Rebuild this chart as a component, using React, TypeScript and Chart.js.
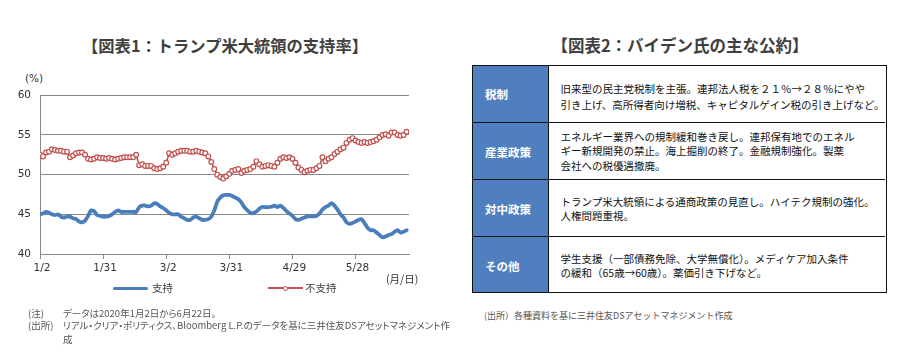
import React, { useEffect, useRef } from "react";
import { Chart, registerables } from "chart.js";

Chart.register(...registerables);

// ---- Chart data (business days, 2020/1/2 - 6/22) ----
const TICK_LABELS = ["1/2", "1/31", "3/2", "3/31", "4/29", "5/28"];
const TICK_INDEX = [0, 21, 42, 63, 84, 105];
const Y_MIN = 40;
const Y_MAX = 60;
const Y_STEP = 5;
const SERIES_NAMES = ["支持", "不支持"];

const SUPPORT = [
  45.0, 45.1, 45.3, 45.2, 45.0, 44.9, 45.0, 44.7, 44.6, 44.7,
  44.7, 44.5, 44.4, 44.1, 44.0, 44.2, 44.8, 45.5, 45.4, 44.9,
  44.8, 44.7, 44.7, 44.8, 45.0, 45.3, 45.5, 45.3, 45.3, 45.3,
  45.3, 45.3, 45.3, 45.9, 46.1, 46.1, 46.0, 46.1, 46.4, 46.3,
  46.0, 45.8, 45.5, 45.2, 45.0, 45.0, 45.0, 44.7, 44.5, 44.3,
  44.3, 44.6, 44.7, 44.5, 44.3, 44.3, 44.4, 44.7, 45.5, 46.6,
  47.1, 47.4, 47.45, 47.45, 47.3, 47.1, 46.9, 46.5, 45.9, 45.5,
  45.2, 45.15, 45.35, 45.7, 45.95, 45.9, 45.9, 45.95, 46.1, 45.9,
  46.1, 45.8, 45.4, 45.1, 44.8, 44.4, 44.3, 44.45, 44.6, 44.75,
  44.75, 44.75, 44.8, 45.1, 45.6, 45.9, 46.1, 46.4, 46.1, 45.6,
  45.0, 44.6, 44.0, 43.8, 43.9, 44.1, 44.3, 44.4, 43.9, 43.3,
  43.0, 43.0, 42.7, 42.4, 42.1, 42.2, 42.4, 42.5, 42.8, 43.0,
  42.7, 42.8, 43.0,
];

const DISAPPROVE = [
  52.5, 52.3, 52.8, 52.9, 53.2, 53.1, 53.0, 53.0, 52.9, 52.9,
  52.2, 52.4, 52.7, 52.8, 52.8, 52.5, 52.0, 51.9, 52.0, 52.2,
  52.1, 52.1, 52.0, 52.1, 52.0, 51.9, 52.0, 52.1, 52.2, 52.2,
  52.2, 52.2, 52.5, 51.2, 51.3, 51.1, 51.1, 51.1, 50.8, 50.7,
  50.8, 51.0, 51.5, 52.7, 52.5, 52.7, 52.9, 53.0, 53.0, 53.0,
  52.9, 52.9, 53.0, 52.9, 52.8, 52.7, 52.3, 51.6, 50.7, 50.0,
  49.7, 49.5, 49.8, 50.1, 50.5, 50.6, 50.7, 50.2, 50.5, 50.6,
  50.7, 51.0, 51.7, 51.3, 51.0, 51.1, 51.2, 51.1, 51.0, 51.5,
  52.0, 52.2, 52.1, 52.2, 52.0, 51.5, 50.9, 50.6, 50.3, 50.5,
  50.6, 50.6, 50.8, 51.1, 52.2, 51.7, 52.0, 52.2, 52.6, 52.9,
  53.2, 53.4, 54.0, 54.4, 54.6, 54.3, 54.1, 54.0, 54.1, 54.0,
  54.1, 54.2, 54.4, 54.7, 55.0, 55.1, 54.9, 55.3, 55.3, 55.0,
  54.9, 55.0, 55.4,
];

// ---- Table data ----
const POLICY_CATEGORIES = ["税制", "産業政策", "対中政策", "その他"];
const POLICY_TEXTS = [
  [
    "旧来型の民主党税制を主張。連邦法人税を２１％→２８％にやや",
    "引き上げ、高所得者向け増税、キャピタルゲイン税の引き上げなど。",
  ],
  [
    "エネルギー業界への規制緩和巻き戻し。連邦保有地でのエネル",
    "ギー新規開発の禁止。海上掘削の終了。金融規制強化。製薬",
    "会社への税優遇撤廃。",
  ],
  [
    "トランプ米大統領による通商政策の見直し。ハイテク規制の強化。",
    "人権問題重視。",
  ],
  [
    "学生支援（一部債務免除、大学無償化）。メディケア加入条件",
    "の緩和（65歳→60歳）。薬価引き下げなど。",
  ],
];

const TITLE1 = "【図表1：トランプ米大統領の支持率】";
const TITLE2 = "【図表2：バイデン氏の主な公約】";
const NOTE_LABEL = "(注)";
const NOTE_TEXT = "データは2020年1月2日から6月22日。";
const SOURCE_LABEL = "(出所)";
const SOURCE_TEXT_1 = "リアル・クリア・ポリティクス、Bloomberg L.P.のデータを基に三井住友DSアセットマネジメント作";
const SOURCE_TEXT_2 = "成";
const SOURCE_RIGHT = "(出所）各種資料を基に三井住友DSアセットマネジメント作成";

const BLUE = "#4a7ebb";
const RED = "#c0504d";
const GRID = "#8a8a8a";
const JP = '"Noto Sans CJK JP", "Noto Sans", sans-serif';
const NUM = '"DejaVu Sans", sans-serif';

function LineChart() {
  const ref = useRef<HTMLCanvasElement | null>(null);
  useEffect(() => {
    if (!ref.current) return;
    const chart = new Chart(ref.current, {
      type: "line",
      data: {
        datasets: [
          {
            label: SERIES_NAMES[0],
            data: SUPPORT.map((y, i) => ({ x: i, y })),
            borderColor: BLUE,
            backgroundColor: BLUE,
            borderWidth: 3.8,
            pointRadius: 0,
            tension: 0.2,
            borderJoinStyle: "round",
            borderCapStyle: "round",
          },
          {
            label: SERIES_NAMES[1],
            data: DISAPPROVE.map((y, i) => ({ x: i, y })),
            borderColor: RED,
            backgroundColor: "#ffffff",
            borderWidth: 1.6,
            pointRadius: 2.4,
            pointBorderWidth: 1.2,
            pointBackgroundColor: "#ffffff",
            pointBorderColor: RED,
            tension: 0,
          },
        ],
      },
      options: {
        animation: false,
        responsive: false,
        maintainAspectRatio: false,
        layout: { padding: { top: 12, right: 31, left: 0, bottom: 0 } },
        plugins: { legend: { display: false }, tooltip: { enabled: false } },
        scales: {
          x: {
            type: "linear",
            min: 0,
            max: 122.8,
            afterBuildTicks: (s: any) => {
              s.ticks = TICK_INDEX.map((v) => ({ value: v }));
            },
            afterFit: (s: any) => {
              s.height = 26;
            },
            ticks: {
              autoSkip: false,
              maxRotation: 0,
              padding: 3,
              labelOffset: 2,
              color: "#333333",
              font: { family: NUM, size: 10.5 },
              callback: (_v: any, i: number) => TICK_LABELS[i] ?? "",
            },
            grid: { drawOnChartArea: false, drawTicks: true, tickLength: 5, color: GRID },
            border: { color: GRID },
          },
          y: {
            min: Y_MIN,
            max: Y_MAX,
            afterFit: (s: any) => {
              s.width = 40;
            },
            ticks: {
              stepSize: Y_STEP,
              padding: 9,
              color: "#333333",
              font: { family: NUM, size: 10.5 },
            },
            grid: { color: GRID, drawTicks: false },
            border: { color: GRID },
          },
        },
      },
    } as any);
    return () => chart.destroy();
  }, []);
  return (
    <canvas
      ref={ref}
      width={440}
      height={200}
      style={{ position: "absolute", left: 0, top: 80, width: 440, height: 200, display: "block" }}
    />
  );
}

const abs = (left: number, top: number, extra: React.CSSProperties = {}): React.CSSProperties => ({
  position: "absolute",
  left,
  top,
  whiteSpace: "nowrap",
  ...extra,
});

const PALT: React.CSSProperties = { fontFeatureSettings: '"palt" 1' };

export default function App() {
  const rowH = 57;
  const tableTop = 65;
  const tableLeft = 472;
  const headW = 77;
  const tableW = 415;
  const lineHeights = [16.5, 14.5, 13.5, 14];
  const shifts = [8, 2, 2, 2];
  return (
    <div
      style={{
        position: "absolute",
        left: 0,
        top: 0,
        width: 900,
        height: 358,
        background: "#ffffff",
        fontFamily: JP,
        overflow: "hidden",
      }}
    >
      {/* Left title */}
      <div
        style={abs(0, 34, {
          width: 450,
          textAlign: "center",
          fontSize: 16.3,
          fontWeight: 700,
          color: "#404040",
          lineHeight: "22px",
        })}
      >
        {TITLE1}
      </div>
      <div style={abs(25, 71, { fontFamily: NUM, fontSize: 10.5, color: "#333", lineHeight: "14px" })}>(%)</div>

      <LineChart />

      <div style={abs(386, 272, { fontSize: 10.5, color: "#333", lineHeight: "14px" })}>(月/日)</div>

      {/* Legend */}
      <div style={abs(113, 286.5, { width: 35, height: 3.5, background: BLUE, borderRadius: 2 })} />
      <div style={abs(152, 281, { fontSize: 10.5, color: "#404040", lineHeight: "14px" })}>{SERIES_NAMES[0]}</div>
      <div style={abs(268, 287.3, { width: 35, height: 2, background: RED })} />
      <div
        style={abs(283, 285.7, {
          width: 5,
          height: 5,
          boxSizing: "border-box",
          border: `1px solid ${RED}`,
          borderRadius: "50%",
          background: "#fff",
        })}
      />
      <div style={abs(305, 281, { fontSize: 10.5, color: "#404040", lineHeight: "14px" })}>{SERIES_NAMES[1]}</div>

      {/* Left notes */}
      <div style={abs(28, 307, { fontSize: 9.5, color: "#555", lineHeight: "12px" })}>{NOTE_LABEL}</div>
      <div style={abs(63, 307, { fontSize: 9.5, color: "#555", lineHeight: "12px", ...PALT })}>{NOTE_TEXT}</div>
      <div style={abs(28, 319, { fontSize: 9.5, color: "#555", lineHeight: "12px" })}>{SOURCE_LABEL}</div>
      <div style={abs(63, 319, { fontSize: 9.5, color: "#555", lineHeight: "12px", ...PALT })}>
        {SOURCE_TEXT_1}
      </div>
      <div style={abs(63, 333, { fontSize: 9.5, color: "#555", lineHeight: "12px" })}>{SOURCE_TEXT_2}</div>

      {/* Right title */}
      <div
        style={abs(455, 34, {
          width: 450,
          textAlign: "center",
          fontSize: 16.5,
          fontWeight: 700,
          color: "#404040",
          lineHeight: "22px",
        })}
      >
        {TITLE2}
      </div>

      {/* Table */}
      <div
        style={abs(tableLeft, tableTop, {
          width: tableW,
          height: rowH * POLICY_CATEGORIES.length,
          boxSizing: "border-box",
          border: "1.5px solid #111",
          overflow: "hidden",
        })}
      >
        {POLICY_CATEGORIES.map((cat, i) => (
          <div
            key={cat}
            style={{
              position: "absolute",
              left: 0,
              top: i * rowH - 1.5,
              width: tableW - 3,
              height: rowH,
              boxSizing: "border-box",
              borderTop: i === 0 ? "none" : "1.5px solid #111",
              display: "flex",
            }}
          >
            <div
              style={{
                width: headW - 1.5,
                flexShrink: 0,
                height: "100%",
                background: "#4f7fbe",
                borderRight: "1.5px solid #111",
                display: "flex",
                alignItems: "center",
                paddingLeft: 12,
                paddingTop: 2,
                boxSizing: "border-box",
                color: "#ffffff",
                fontWeight: 700,
                fontSize: 11.5,
              }}
            >
              {cat}
            </div>
            <div
              style={{
                flex: "1 1 0",
                minWidth: 0,
                height: "100%",
                display: "flex",
                flexDirection: "column",
                justifyContent: "center",
                paddingLeft: 12,
                paddingTop: shifts[i],
                boxSizing: "border-box",
                fontSize: 10.5,
                lineHeight: `${lineHeights[i]}px`,
                color: "#111111",
                whiteSpace: "nowrap",
              }}
            >
              {POLICY_TEXTS[i].map((t, k) => (
                <div key={k}>{t}</div>
              ))}
            </div>
          </div>
        ))}
      </div>

      <div style={abs(484, 310, { fontSize: 9, color: "#555", lineHeight: "12px" })}>{SOURCE_RIGHT}</div>
    </div>
  );
}
